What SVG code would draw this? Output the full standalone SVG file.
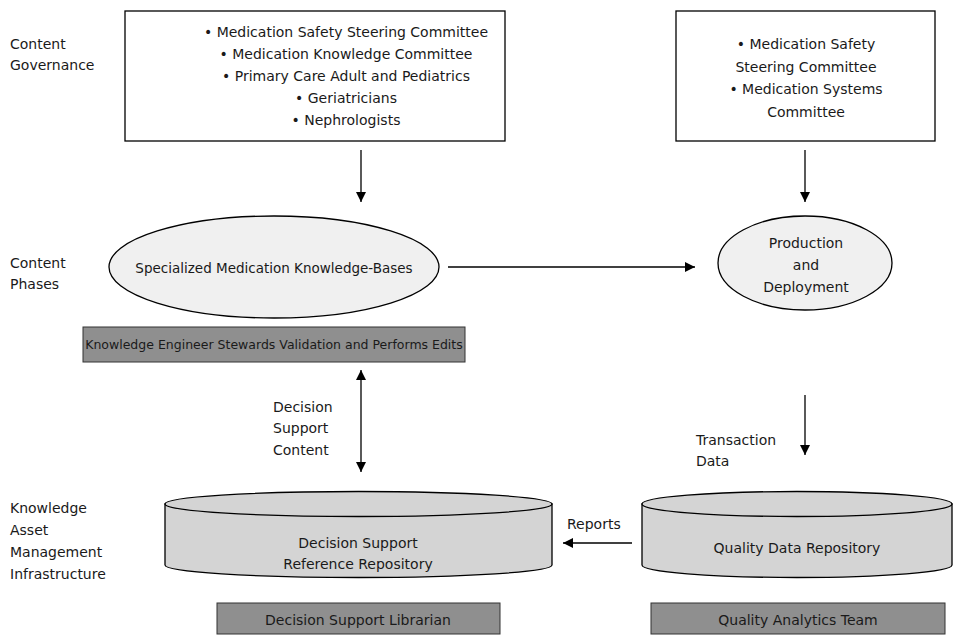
<svg xmlns="http://www.w3.org/2000/svg" width="960" height="635" viewBox="0 0 960 635">
  <defs>
    <marker id="arrow" viewBox="0 0 10 10" refX="10" refY="5" markerWidth="10" markerHeight="10" markerUnits="userSpaceOnUse" orient="auto-start-reverse">
      <path d="M0,0 L10,5 L0,10 Z" fill="#000"/>
    </marker>
  </defs>
  <style>
    text { font-family: "DejaVu Sans", "Liberation Sans", sans-serif; font-size: 14px; fill: #1a1a1a; }
    .mid { text-anchor: middle; }
    .small { font-size: 12.5px; }
    .box { fill: #fff; stroke: #000; stroke-width: 1.3; }
    .oval { fill: #f0f0f0; stroke: #000; stroke-width: 1.3; }
    .bar { fill: #8f8f8f; stroke: #333; stroke-width: 1; }
    .cyl { fill: #d4d4d4; stroke: #000; stroke-width: 1.3; }
    .conn { stroke: #000; stroke-width: 1.3; fill: none; marker-end: url(#arrow); }
  </style>
  <rect width="960" height="635" fill="#fff"/>

  <!-- row labels -->
  <g id="row-labels">
    <text x="10" y="49">Content</text>
    <text x="10" y="70">Governance</text>
    <text x="10" y="268">Content</text>
    <text x="10" y="289">Phases</text>
    <text x="10" y="513">Knowledge</text>
    <text x="10" y="535">Asset</text>
    <text x="10" y="557">Management</text>
    <text x="10" y="579">Infrastructure</text>
  </g>

  <g id="governance-committees">
    <rect class="box" x="125" y="11" width="380" height="130"/>
    <text class="mid" x="346" y="37">• Medication Safety Steering Committee</text>
    <text class="mid" x="346" y="59">• Medication Knowledge Committee</text>
    <text class="mid" x="346" y="81">• Primary Care Adult and Pediatrics</text>
    <text class="mid" x="346" y="103">• Geriatricians</text>
    <text class="mid" x="346" y="125">• Nephrologists</text>
  </g>

  <g id="systems-committees">
    <rect class="box" x="676" y="11" width="259" height="130"/>
    <text class="mid" x="806" y="49">• Medication Safety</text>
    <text class="mid" x="806" y="72">Steering Committee</text>
    <text class="mid" x="806" y="94">• Medication Systems</text>
    <text class="mid" x="806" y="117">Committee</text>
  </g>

  <g id="knowledge-bases">
    <ellipse class="oval" cx="274" cy="267" rx="165" ry="51"/>
    <text class="mid" x="274" y="273" style="font-size:13.5px">Specialized Medication Knowledge-Bases</text>
  </g>

  <g id="knowledge-engineer">
    <rect class="bar" x="83" y="327" width="382" height="35"/>
    <text class="mid small" x="274" y="349">Knowledge Engineer Stewards Validation and Performs Edits</text>
  </g>

  <g id="production">
    <ellipse class="oval" cx="805" cy="263" rx="87" ry="47"/>
    <text class="mid" x="806" y="248">Production</text>
    <text class="mid" x="806" y="270">and</text>
    <text class="mid" x="806" y="292">Deployment</text>
  </g>

  <g id="reference-repository">
    <path class="cyl" d="M165,504 L165,565 A193.5,12.5 0 0 0 552,565 L552,504 Z"/>
    <ellipse class="cyl" cx="358.5" cy="504" rx="193.5" ry="12.5"/>
    <text class="mid" x="358" y="548">Decision Support</text>
    <text class="mid" x="358" y="569">Reference Repository</text>
  </g>

  <g id="quality-repository">
    <path class="cyl" d="M642,504 L642,565 A155,12.5 0 0 0 952,565 L952,504 Z"/>
    <ellipse class="cyl" cx="797" cy="504" rx="155" ry="12.5"/>
    <text class="mid" x="797" y="553">Quality Data Repository</text>
  </g>

  <g id="librarian">
    <rect class="bar" x="217" y="603" width="283" height="31"/>
    <text class="mid" x="358" y="625">Decision Support Librarian</text>
  </g>

  <g id="analytics-team">
    <rect class="bar" x="651" y="603" width="294" height="31"/>
    <text class="mid" x="798" y="625">Quality Analytics Team</text>
  </g>

  <g id="connectors">
    <line class="conn" x1="361" y1="150" x2="361" y2="202"/>
    <line class="conn" x1="805" y1="150" x2="805" y2="202"/>
    <line class="conn" x1="448" y1="267" x2="695" y2="267"/>
    <line class="conn" x1="361" y1="421" x2="361" y2="370" />
    <line class="conn" x1="361" y1="421" x2="361" y2="472"/>
    <line class="conn" x1="805" y1="395" x2="805" y2="455"/>
    <line class="conn" x1="632" y1="543" x2="563" y2="543"/>
    <text x="273" y="412">Decision</text>
    <text x="273" y="433">Support</text>
    <text x="273" y="455">Content</text>
    <text x="696" y="445">Transaction</text>
    <text x="696" y="466">Data</text>
    <text x="567" y="529">Reports</text>
  </g>
</svg>
